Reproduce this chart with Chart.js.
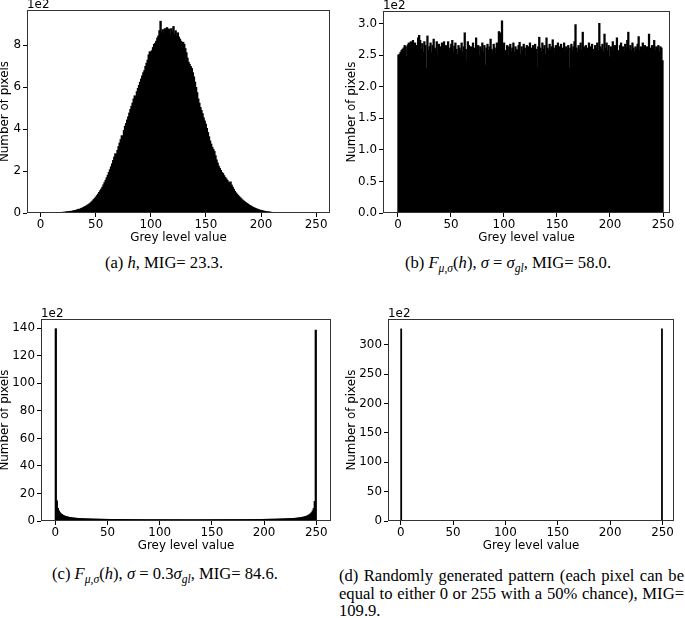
<!DOCTYPE html>
<html><head><meta charset="utf-8">
<script src="https://cdn.jsdelivr.net/npm/chart.js@4.4.1/dist/chart.umd.min.js"></script>
<style>
html,body{margin:0;padding:0;background:#fff;}
body{width:685px;height:618px;position:relative;overflow:hidden;}
canvas{position:absolute;}
.cap{position:absolute;font-family:"Liberation Serif","Times New Roman",serif;font-size:16.6px;color:#000;white-space:nowrap;line-height:18px;transform:translate(-50%,-50%);}
.cap sub{font-size:70%;vertical-align:baseline;position:relative;top:0.35em;line-height:0;}
.capd{position:absolute;left:339px;top:567px;width:345px;font-family:"Liberation Serif","Times New Roman",serif;font-size:16.6px;line-height:17.5px;color:#000;}
.capd div{text-align:justify;text-align-last:justify;white-space:nowrap;}
.capd div.last{text-align-last:left;}
</style></head><body>
<canvas id="ca"></canvas><canvas id="cb"></canvas><canvas id="cc"></canvas><canvas id="cd"></canvas>
<div class="cap" style="left:164px;top:263px">(a) <i>h</i>, MIG= 23.3.</div>
<div class="cap" style="left:508px;top:263px">(b) <i>F</i><sub><i>μ,σ</i></sub>(<i>h</i>), <i>σ</i> = <i>σ</i><sub><i>gl</i></sub>, MIG= 58.0.</div>
<div class="cap" style="left:165px;top:574px">(c) <i>F</i><sub><i>μ,σ</i></sub>(<i>h</i>), <i>σ</i> = 0.3<i>σ</i><sub><i>gl</i></sub>, MIG= 84.6.</div>
<div class="capd"><div>(d) Randomly generated pattern (each pixel can be</div><div>equal to either 0 or 255 with a 50% chance), MIG=</div><div class="last">109.9.</div></div>
<script>
// ---- data (counts in units of 1e2 pixels) ----
const greyLevels = Array.from({length: 256}, (_, i) => i);
const xTickValues = [0, 50, 100, 150, 200, 250];
const yTicksA = [0, 2, 4, 6, 8];
const yTicksB = [0, 0.5, 1, 1.5, 2, 2.5, 3];
const yTicksC = [0, 20, 40, 60, 80, 100, 120, 140];
const yTicksD = [0, 50, 100, 150, 200, 250, 300];

const countsA = [
0.01,0.00,0.01,0.01,0.02,0.01,0.02,0.01,0.02,0.02,
0.02,0.03,0.02,0.03,0.03,0.04,0.03,0.04,0.05,0.04,
0.05,0.06,0.05,0.07,0.08,0.07,0.09,0.10,0.09,0.11,
0.12,0.14,0.13,0.16,0.18,0.20,0.19,0.23,0.25,0.27,
0.30,0.33,0.35,0.39,0.42,0.46,0.50,0.55,0.60,0.66,
0.72,0.78,0.85,0.92,1.00,1.08,1.16,1.25,1.36,1.47,
1.58,1.70,1.82,1.95,2.08,2.22,2.36,2.52,2.68,2.84,
2.82,3.00,3.18,3.35,3.52,3.70,3.62,3.95,4.15,4.28,
4.45,4.60,4.78,4.95,5.10,5.25,5.45,5.60,5.55,5.80,
5.95,6.10,6.25,6.40,6.55,6.70,6.80,7.00,7.15,7.30,
7.55,7.70,7.65,7.75,7.90,8.05,8.10,8.20,8.35,8.45,
8.70,9.15,8.60,8.75,8.55,8.80,8.70,8.85,8.60,8.78,
8.55,8.80,8.65,8.90,8.50,8.70,8.45,8.60,8.40,8.30,
8.20,8.10,8.15,8.05,7.85,7.65,7.40,7.20,7.10,7.00,
6.90,6.70,6.50,6.25,6.00,5.75,5.45,5.25,5.05,4.90,
4.75,4.55,4.40,4.25,4.05,3.85,3.65,3.45,3.30,3.15,
3.05,2.95,2.75,2.55,2.40,2.25,2.15,2.05,1.95,1.90,
1.80,1.72,1.65,1.58,1.50,1.42,1.50,1.35,1.25,1.15,
1.05,0.98,0.92,0.86,0.80,0.75,0.70,0.64,0.60,0.56,
0.52,0.48,0.45,0.41,0.38,0.35,0.32,0.29,0.27,0.24,
0.22,0.20,0.18,0.16,0.15,0.13,0.12,0.11,0.10,0.09,
0.08,0.07,0.07,0.06,0.05,0.05,0.04,0.04,0.03,0.03,
0.03,0.03,0.02,0.02,0.02,0.02,0.02,0.01,0.01,0.01,
0.01,0.01,0.01,0.01,0.01,0.01,0.01,0.00,0.01,0.00,
0.01,0.00,0.00,0.01,0.00,0.00,0.00,0.01,0.00,0.00,
0.00,0.00,0.01,0.00,0.00,0.00];

const countsB = [
2.51,2.52,2.55,2.58,2.60,2.62,2.66,2.64,2.48,2.67,
2.70,2.65,2.72,2.68,2.74,2.62,2.70,2.42,2.66,2.78,
2.82,2.74,2.60,2.69,2.55,2.72,2.66,2.30,2.81,2.58,
2.64,2.70,2.55,2.66,2.76,2.62,2.58,2.72,2.50,2.68,
2.64,2.56,2.70,2.62,2.72,2.48,2.66,2.60,2.72,2.58,
2.62,2.68,2.74,2.56,2.65,2.70,2.60,2.52,2.66,2.62,
2.58,2.70,2.55,2.64,2.86,2.60,2.42,2.72,2.66,2.58,
2.64,2.45,2.70,2.62,2.56,2.78,2.60,2.66,2.50,2.64,
2.60,2.70,2.56,2.66,2.35,2.62,2.68,2.58,2.64,2.76,
2.60,2.56,2.68,2.62,2.54,2.70,2.66,2.88,2.64,2.86,
3.05,2.62,2.70,2.46,2.58,2.66,2.50,2.64,2.68,2.56,
2.62,2.70,2.55,2.64,2.60,2.58,2.66,2.71,2.52,2.64,
2.58,2.68,2.62,2.48,2.66,2.60,2.64,2.70,2.56,2.62,
2.66,2.58,2.68,2.60,2.31,2.64,2.79,2.62,2.56,2.70,
2.60,2.66,2.52,2.78,2.62,2.58,2.68,2.60,2.64,2.75,
2.62,2.55,2.66,2.60,2.70,2.56,2.64,2.68,2.58,2.62,
2.70,2.56,2.64,2.60,2.66,2.30,2.62,2.68,2.58,2.64,
2.72,2.99,2.62,2.56,2.66,2.60,2.70,2.58,2.87,2.64,
2.60,2.66,2.56,2.62,2.70,2.58,2.64,2.68,2.60,2.56,
2.66,2.62,2.70,2.58,3.01,2.64,2.60,2.68,2.56,2.84,
2.62,2.70,2.58,2.66,2.48,2.64,2.60,2.72,2.56,2.66,
2.62,2.78,2.58,2.30,2.66,2.70,2.60,2.64,2.56,2.68,
2.62,2.74,2.87,2.60,2.66,2.58,2.70,2.62,2.56,2.64,
2.60,2.68,2.80,2.58,2.64,2.62,2.70,2.56,2.66,2.60,
2.64,2.58,2.84,2.62,2.34,2.66,2.60,2.74,2.58,2.64,
2.62,2.66,2.56,2.64,2.62,2.42];

const countsC = [
140,15.0,9.5,7.6,6.4,5.6,5.0,4.5,4.1,3.8,
3.55,3.35,3.15,3.00,2.85,2.72,2.60,2.50,2.42,2.35,
2.28,2.22,2.16,2.11,2.06,2.02,1.98,1.94,1.91,1.88,
1.85,1.82,1.80,1.77,1.75,1.73,1.71,1.69,1.67,1.65,
1.63,1.62,1.60,1.59,1.57,1.56,1.55,1.53,1.52,1.51,
1.50,1.49,1.48,1.47,1.46,1.45,1.44,1.43,1.42,1.41,
1.40,1.40,1.39,1.38,1.37,1.37,1.36,1.35,1.35,1.34,
1.33,1.33,1.32,1.32,1.31,1.31,1.30,1.30,1.29,1.29,
1.28,1.28,1.28,1.27,1.27,1.26,1.26,1.26,1.25,1.25,
1.25,1.25,1.24,1.24,1.24,1.23,1.23,1.23,1.23,1.22,
1.22,1.22,1.22,1.22,1.21,1.21,1.21,1.21,1.21,1.21,
1.20,1.20,1.20,1.20,1.20,1.20,1.20,1.20,1.20,1.20,
1.20,1.20,1.19,1.19,1.19,1.19,1.19,1.19,
1.19,1.19,1.19,1.19,1.19,1.19,1.20,1.20,
1.20,1.20,1.20,1.20,1.20,1.20,1.20,1.20,1.20,1.20,
1.21,1.21,1.21,1.21,1.21,1.21,1.22,1.22,1.22,1.22,
1.22,1.23,1.23,1.23,1.23,1.24,1.24,1.24,1.25,1.25,
1.25,1.25,1.26,1.26,1.26,1.27,1.27,1.28,1.28,1.28,
1.29,1.29,1.30,1.30,1.31,1.31,1.32,1.32,1.33,1.33,
1.34,1.35,1.35,1.36,1.37,1.37,1.38,1.39,1.40,1.40,
1.41,1.42,1.43,1.44,1.45,1.46,1.47,1.48,1.49,1.50,
1.51,1.52,1.53,1.55,1.56,1.57,1.59,1.60,1.62,1.63,
1.65,1.67,1.69,1.71,1.73,1.75,1.77,1.80,1.82,1.85,
1.88,1.91,1.94,1.98,2.02,2.06,2.11,2.16,2.22,2.28,
2.35,2.42,2.50,2.60,2.72,2.85,3.00,3.15,3.35,3.55,
3.80,4.10,4.50,5.00,5.60,6.40,7.60,9.30,14.5,139];

// pattern (d): only the two extreme grey levels are populated
const levelsD = [0, 255];
const countsD = [328, 328];

// the reference spreads the 256 bins over 0..250 on its x axis
const BIN_SPAN = 250;
const NBINS = 256;

const TICK_FONT = {family: '"DejaVu Sans", sans-serif', size: 11.9};

const framePlugin = {
  id: 'frame',
  afterDraw(chart) {
    const {ctx, chartArea: {left, top, right, bottom}} = chart;
    ctx.save();
    ctx.strokeStyle = '#333';
    ctx.lineWidth = 1;
    ctx.strokeRect(left + 0.5, top + 0.5, right - left - 1, bottom - top - 1);
    ctx.fillStyle = '#000';
    ctx.font = '11.9px "DejaVu Sans", sans-serif';
    ctx.textAlign = 'left';
    ctx.textBaseline = 'alphabetic';
    ctx.fillText('1e2', left, top - 2);
    ctx.restore();
  }
};

function build(id, g, levels, counts, yTicks, yMax, yDec, barThickness) {
  const cv = document.getElementById(id);
  cv.width = g.w; cv.height = g.h;
  cv.style.left = g.cx + 'px'; cv.style.top = g.cy + 'px';
  cv.style.width = g.w + 'px'; cv.style.height = g.h + 'px';
  const ds = {
    data: levels.map((lv, i) => ({x: (lv + 0.5) * BIN_SPAN / NBINS, y: counts[i]})),
    backgroundColor: '#000',
    borderWidth: 0,
    barPercentage: 2.2,
    categoryPercentage: 1,
    inflateAmount: 0,
    grouped: false
  };
  if (barThickness) ds.barThickness = barThickness;
  new Chart(cv, {
    type: 'bar',
    data: {datasets: [ds]},
    plugins: [framePlugin],
    options: {
      responsive: false,
      animation: false,
      devicePixelRatio: 1,
      layout: {padding: {left: 0, top: g.t - g.cy, right: g.cx + g.w - g.r, bottom: 0}},
      plugins: {legend: {display: false}, tooltip: {enabled: false}},
      scales: {
        x: {
          type: 'linear', offset: false, min: g.xmin, max: g.xmax,
          afterBuildTicks: s => { s.ticks = xTickValues.map(v => ({value: v})); },
          afterFit: s => { s.height = g.cy + g.h - g.b; },
          border: {display: false},
          grid: {display: true, drawOnChartArea: false, drawTicks: true, tickLength: 4, color: '#000', lineWidth: 1, offset: false},
          ticks: {font: TICK_FONT, color: '#000', padding: 1, maxRotation: 0, autoSkip: false},
          title: {display: true, text: 'Grey level value', font: TICK_FONT, color: '#000', padding: {top: 0, bottom: 0}}
        },
        y: {
          min: 0, max: yMax,
          afterBuildTicks: s => { s.ticks = yTicks.map(v => ({value: v})); },
          afterFit: s => { s.width = g.l - g.cx; },
          border: {display: false},
          grid: {display: true, drawOnChartArea: false, drawTicks: true, tickLength: 4, color: '#000', lineWidth: 1},
          ticks: {font: TICK_FONT, color: '#000', padding: 2, autoSkip: false, callback: v => v.toFixed(yDec)},
          title: {display: true, text: 'Number of pixels', font: TICK_FONT, color: '#000', padding: {top: 0, bottom: 0}}
        }
      }
    }
  });
}

build('ca', {cx: -2, cy: 0, w: 344, h: 245, l: 27, t: 10, r: 330, b: 213, xmin: -12.3, xmax: 262.6}, greyLevels, countsA, yTicksA, 9.667, 0);
build('cb', {cx: 345, cy: 0, w: 340, h: 245, l: 383, t: 11, r: 670, b: 213, xmin: -14.1, xmax: 256.6}, greyLevels, countsB, yTicksB, 3.2, 1);
build('cc', {cx: -2, cy: 300, w: 344, h: 253, l: 41, t: 319, r: 331, b: 521, xmin: -13.7, xmax: 264.1}, greyLevels, countsC, yTicksC, 146.8, 0);
build('cd', {cx: 345, cy: 300, w: 340, h: 253, l: 388, t: 319, r: 674, b: 521, xmin: -12.1, xmax: 261}, levelsD, countsD, yTicksD, 344.3, 0, 1.8);
</script>
</body></html>
